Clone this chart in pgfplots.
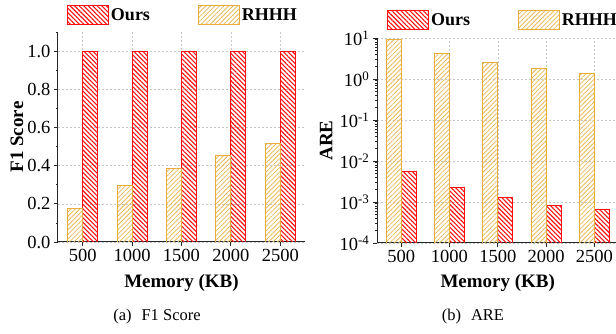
\documentclass[border=0pt]{standalone}
\usepackage{pgfplots}
\pgfplotsset{compat=1.18}
\usepackage{fontspec}
\setmainfont{Liberation Serif}
\usetikzlibrary{patterns.meta}
\definecolor{oursred}{RGB}{255,15,15}
\definecolor{rhhhor}{RGB}{232,172,60}
\begin{document}
\begin{tikzpicture}
\useasboundingbox (0pt,0pt) rectangle (616pt,334pt);
\pgfplotsset{
  mystyle/.style={
    scale only axis,
    ybar,
    bar width=15pt,
    xmin=-0.5, xmax=4.5,
    xtick=data,
    xticklabels={500,1000,1500,2000,2500},
    axis x line*=bottom,
    axis y line*=left,
    axis line style={line width=1pt, black!85},
    tick align=outside,
    major tick length=4pt,
    minor tick length=2pt,
    tick style={line width=0.8pt, black!85},
    xmajorgrids, ymajorgrids,
    major grid style={dash pattern=on 2pt off 2pt, gray!45, line width=0.5pt},
    /pgf/number format/assume math mode=true,
    tick label style={font=\fontsize{18.5}{20}\selectfont},
    label style={font=\fontsize{19}{21}\selectfont\bfseries},
    xlabel={Memory (KB)},
    legend columns=2,
    legend style={draw=none, fill=none, inner sep=0pt, font=\fontsize{18}{20}\selectfont\bfseries,
      /tikz/every even column/.append style={column sep=46pt},
      nodes={inner sep=2pt}},
    legend image code/.code={\draw[##1] (0pt,-9.5pt) rectangle (41pt,9.5pt);},
    oursbar/.style={draw=oursred, line width=0.9pt, pattern color=oursred,
      pattern={Lines[angle=-45,distance=3.2pt,line width=1.1pt]}},
    rhhhbar/.style={draw=rhhhor, line width=0.9pt, pattern color=rhhhor!85,
      pattern={Lines[angle=45,distance=3.2pt,line width=0.8pt]}},
  }
}
\begin{axis}[mystyle,
  at={(58pt,92pt)}, anchor=south west,
  width=247pt, height=210pt,
  ymin=0, ymax=1.1,
  ytick={0,0.2,0.4,0.6,0.8,1.0},
  minor ytick={0.1,0.3,0.5,0.7,0.9,1.1},
  yticklabel style={/pgf/number format/.cd, fixed, fixed zerofill, precision=1},
  ylabel={F1 Score},
  ylabel style={at={(rel axis cs:-0.166,0.5)}, anchor=center, rotate=0},
  xlabel style={at={(rel axis cs:0.5,-0.195)}, anchor=center},
  legend style={at={(rel axis cs:0.036,1.129)}, anchor=north west},
]
\addplot[oursbar, bar shift=7.5pt] coordinates {(0,0.996) (1,1.0) (2,1.0) (3,1.0) (4,1.0)};
\addlegendentry{Ours}
\addplot[rhhhbar, bar shift=-7.5pt] coordinates {(0,0.178) (1,0.296) (2,0.387) (3,0.455) (4,0.515)};
\addlegendentry{RHHH}
\end{axis}
\begin{axis}[mystyle,
  at={(377pt,91pt)}, anchor=south west,
  width=241.5pt, height=205pt,
  ymode=log, log origin=infty,
  ymin=1e-4, ymax=10,
  ytick={1e-4,1e-3,1e-2,1e-1,1,10},
  yticklabels={10\textsuperscript{-4},10\textsuperscript{-3},10\textsuperscript{-2},10\textsuperscript{-1},10\textsuperscript{0},10\textsuperscript{1}},
  ylabel={ARE},
  ylabel style={at={(rel axis cs:-0.211,0.5)}, anchor=center, rotate=0},
  xlabel style={at={(rel axis cs:0.5,-0.195)}, anchor=center},
  legend style={at={(rel axis cs:0.041,1.137)}, anchor=north west},
]
\addplot[oursbar, bar shift=7.5pt] coordinates {(0,0.0056) (1,0.0023) (2,0.0013) (3,0.00081) (4,0.00064)};
\addlegendentry{Ours}
\addplot[rhhhbar, bar shift=-7.5pt] coordinates {(0,9.1) (1,4.3) (2,2.57) (3,1.82) (4,1.38)};
\addlegendentry{RHHH}
\end{axis}
\node[font=\fontsize{16.5}{18}\selectfont] at (157pt,17pt) {(a)\hspace{0.6em}F1 Score};
\node[font=\fontsize{16.5}{18}\selectfont] at (473pt,17pt) {(b)\hspace{0.6em}ARE};
\end{tikzpicture}
\end{document}
